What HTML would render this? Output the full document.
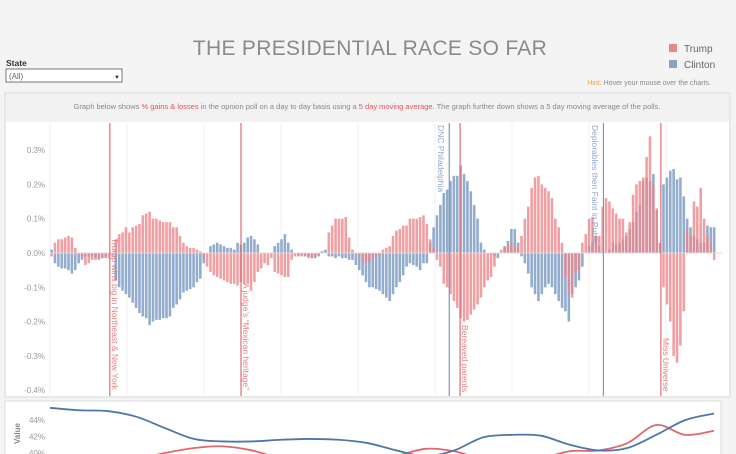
<!DOCTYPE html>
<html><head><meta charset="utf-8"><style>
body{margin:0;width:736px;height:454px;overflow:hidden;background:#f4f4f4;font-family:"Liberation Sans",sans-serif;}
svg{position:absolute;left:0;top:0;}
</style></head><body>
<svg width="736" height="454" viewBox="0 0 736 454" id="root">
<text x="370" y="55" text-anchor="middle" font-size="21" fill="#8a8a8a" letter-spacing="0.3">THE PRESIDENTIAL RACE SO FAR</text>
<text x="6" y="66" font-size="8.5" font-weight="bold" fill="#333">State</text>
<g><rect x="6" y="69" width="116" height="13" fill="#fff" stroke="#555" stroke-width="0.8"/><text x="9" y="79" font-size="8" fill="#666">(All)</text><text x="114" y="79" font-size="6" fill="#333">▼</text></g>
<g><rect x="669" y="44" width="8" height="8" fill="#e58a8d"/><text x="684" y="52" font-size="10" fill="#666">Trump</text></g>
<g><rect x="669" y="60" width="8" height="8" fill="#88a3c6"/><text x="684" y="68" font-size="10" fill="#666">Clinton</text></g>
<text x="711" y="85" text-anchor="end" font-size="7" fill="#888"><tspan fill="#f0a040">Hint:</tspan> Hover your mouse over the charts.</text>
<rect x="5" y="93" width="725" height="304" fill="#f2f2f2" stroke="#ddd"/>
<text x="367" y="109" text-anchor="middle" font-size="7.5" fill="#888">Graph below shows <tspan fill="#e0555a">% gains &amp; losses</tspan> in the opnion poll on a day to day basis using a <tspan fill="#e0555a">5 day moving average.</tspan> The graph further down shows a 5 day moving average of the polls.</text>
<rect x="6" y="122" width="723" height="274" fill="#fff"/>
<g id="bars"></g>
<rect x="5" y="401" width="716" height="60" fill="#fff" stroke="#ddd"/>
<g id="lines"></g>
</svg>
<script>
const trump=[-0.01,0.03,0.04,0.04,0.045,0.05,0.045,0.015,-0.005,-0.01,-0.035,-0.03,-0.02,-0.02,-0.015,-0.015,-0.015,-0.015,-0.01,0.04,
0.055,0.06,0.075,0.06,0.075,0.08,0.085,0.11,0.115,0.12,0.1,0.1,0.095,0.09,0.09,0.09,0.075,0.075,0.05,0.03,0.02,0.015,0.015,0.01,0.005,-0.01,-0.04,-0.055,-0.065,-0.07,-0.075,-0.08,-0.085,-0.09,-0.09,-0.095,-0.085,-0.09,-0.09,-0.11,-0.085,-0.055,-0.045,-0.03,-0.035,-0.015,-0.055,-0.06,-0.065,-0.07,-0.07,-0.02,-0.01,-0.005,-0.01,-0.01,-0.015,-0.015,-0.01,-0.005,0.005,0.0,0.06,0.08,0.1,0.1,0.1,0.105,0.045,0.01,0.0,-0.01,-0.025,-0.03,-0.025,-0.015,-0.01,-0.01,
0.01,0.015,0.02,0.05,0.065,0.07,0.08,0.08,0.1,0.1,0.1,0.105,0.11,0.085,0.04,0.015,-0.02,-0.04,-0.09,-0.1,-0.12,-0.14,-0.16,-0.19,-0.2,-0.195,-0.18,-0.165,-0.15,-0.13,-0.1,-0.08,-0.07,-0.04,0.0,0.01,0.015,0.02,0.03,0.02,0.015,0.05,0.1,0.135,0.19,0.22,0.225,0.2,0.19,0.18,0.16,0.1,0.075,0.03,-0.07,-0.12,-0.13,-0.06,-0.05,0.03,0.055,0.1,0.105,0.05,0.05,0.135,0.16,0.15,0.13,0.115,0.1,0.1,0.06,0.09,0.17,0.2,0.21,0.22,0.28,0.34,0.2,0.13,0.03,-0.1,-0.15,-0.2,-0.3,-0.32,-0.27,-0.17,0.07,0.05,0.15,0.135,0.19,0.1,0.05,0.03,-0.02];
const clinton=[0.01,-0.03,-0.04,-0.045,-0.045,-0.05,-0.06,-0.05,-0.03,-0.02,-0.01,-0.01,-0.01,-0.015,-0.02,-0.015,-0.01,-0.005,0.0,-0.08,
-0.1,-0.11,-0.12,-0.13,-0.145,-0.16,-0.175,-0.185,-0.19,-0.21,-0.2,-0.195,-0.195,-0.19,-0.19,-0.185,-0.16,-0.15,-0.135,-0.115,-0.11,-0.105,-0.1,-0.085,-0.075,-0.03,0.0,0.02,0.025,0.03,0.025,0.02,0.015,0.015,0.01,0.03,0.025,0.03,0.045,0.05,0.04,0.025,0.0,0.0,0.0,0.0,0.02,0.03,0.04,0.055,0.03,0.01,0.0,-0.01,-0.005,-0.01,-0.01,-0.015,-0.015,-0.01,0.005,0.01,-0.01,-0.01,-0.015,-0.01,-0.015,-0.015,-0.02,-0.02,-0.035,-0.05,-0.065,-0.085,-0.1,-0.1,-0.105,-0.11,
-0.12,-0.13,-0.14,-0.12,-0.1,-0.085,-0.065,-0.04,-0.03,-0.035,-0.04,-0.05,-0.03,-0.03,0.03,0.075,0.11,0.14,0.175,0.185,0.21,0.225,0.225,0.255,0.23,0.21,0.18,0.14,0.1,0.03,0.01,0.0,-0.005,-0.01,-0.015,0.0,0.02,0.035,0.07,0.07,0.03,-0.01,-0.03,-0.06,-0.1,-0.12,-0.14,-0.12,-0.1,-0.09,-0.1,-0.12,-0.14,-0.16,-0.17,-0.2,-0.12,-0.1,-0.08,-0.04,0.0,0.02,0.03,0.05,0.02,0.0,0.0,0.01,0.03,0.025,0.03,0.04,0.05,0.07,0.09,0.12,0.14,0.21,0.22,0.21,0.23,0.125,0.03,0.2,0.22,0.24,0.245,0.215,0.22,0.165,0.1,0.075,0.05,0.04,0.03,0.03,0.08,0.075,0.075];
const yTicks=[0.3,0.2,0.1,0.0,-0.1,-0.2,-0.3,-0.4];
const events=["Trump wins big in Northeast & New York","A judge's \u201cMexican heritage\u201d","DNC Philadelphia","Bereaved parents","Deplorables then Faint in Public","Miss Universe"];
const eventIdx=[17.2,56,117.6,120.8,163.2,180.2];
const eventParty=["t","t","c","t","c","t"];
const eventTextY=[238,283,125,325,125,338];
const lineBlue=[45.5,45.2,45.1,44.4,43.0,41.7,41.4,41.4,41.6,41.7,41.6,41.2,40.3,39.6,40.3,41.9,42.2,42.1,41.0,40.3,40.6,42.2,44.0,44.8];
const lineRed=[37.5,37.8,38.3,39.2,40.0,40.6,40.8,40.3,39.3,38.6,38.5,38.8,39.6,40.5,40.2,39.2,38.8,39.3,40.2,40.3,41.2,43.4,42.2,42.7];
const lineTicks=[44,42,40];

const NS="http://www.w3.org/2000/svg";
function mk(tag,attrs,parent){const e=document.createElementNS(NS,tag);for(const k in attrs)e.setAttribute(k,attrs[k]);parent.appendChild(e);return e;}
const bars=document.getElementById('bars');
const X0=50,X1=716;
const n=Math.min(trump.length,clinton.length);
const pitch=(X1-X0)/n;
const bx=i=>X0+i*pitch;
const by=v=>253-v*343;
for(let g=0;g<9;g++){const l=mk('line',{x1:X0+g*77,x2:X0+g*77,y1:123,y2:395,stroke:'#f1f1f1','stroke-width':1},bars);

}
yTicks.forEach(t=>{const tx=mk('text',{x:45,y:by(t)+3,'text-anchor':'end','font-size':8,fill:'#999'},bars);tx.textContent=t.toFixed(1)+'%';

});
for(let i=0;i<n;i++){
  const c=clinton[i],t=trump[i];
  const rc=mk('rect',{x:bx(i)+0.3,width:pitch-0.8,y:Math.min(by(0),by(c)),height:Math.abs(by(c)-by(0)),fill:'#7f9dc5','fill-opacity':0.85},bars);
  
  
  const rt=mk('rect',{x:bx(i)+0.3,width:pitch-0.8,y:Math.min(by(0),by(t)),height:Math.abs(by(t)-by(0)),fill:'#ec8589','fill-opacity':0.78},bars);
  
  
}
const z=mk('line',{x1:X0,x2:X1+6,y1:by(0),y2:by(0),stroke:'#ddd','stroke-width':1},bars);


events.forEach((ev,k)=>{
  const x=bx(eventIdx[k])+pitch/2;
  const col=eventParty[k]=='t'?'#e06a70':'#7b98bf';
  const ln=mk('line',{x1:x,x2:x,y1:123,y2:396,stroke:col,'stroke-width':1.2},bars);
  
  
  const tx=eventParty[k]=='t'?x+2:x-11.5;
  const te=mk('text',{transform:`translate(${tx},${eventTextY[k]}) rotate(90)`,'font-size':8.5,fill:col,'fill-opacity':0.85},bars);
  te.textContent=ev;
  
  
});
const lg=document.getElementById('lines');
const clip=mk('clipPath',{id:'lc'},lg);mk('rect',{x:6,y:402,width:714,height:52},clip);
const ly=v=>436.5-(v-42)*8.2;
const lx=k=>50+k*(664/(lineBlue.length-1));
lineTicks.forEach(t=>{const tx=mk('text',{x:45,y:ly(t)+3,'text-anchor':'end','font-size':8,fill:'#999'},lg);tx.textContent=t+'%';

});
const vl=mk('text',{transform:'translate(20,444) rotate(-90)','font-size':8,'font-weight':'bold',fill:'#888'},lg);vl.textContent='Value';


function path(arr){const p=arr.map((v,k)=>[lx(k),ly(v)]);
 let d='M'+p[0][0]+','+p[0][1];
 for(let k=0;k<p.length-1;k++){const p0=p[k-1]||p[k],p1=p[k],p2=p[k+1],p3=p[k+2]||p2;
  d+=` C${p1[0]+(p2[0]-p0[0])/6},${p1[1]+(p2[1]-p0[1])/6} ${p2[0]-(p3[0]-p1[0])/6},${p2[1]-(p3[1]-p1[1])/6} ${p2[0]},${p2[1]}`;}
 return d;}
const pr=mk('path',{d:path(lineRed),fill:'none',stroke:'#e0676c','stroke-width':1.8,'clip-path':'url(#lc)'},lg);


const pb=mk('path',{d:path(lineBlue),fill:'none',stroke:'#4f76a8','stroke-width':1.8,'clip-path':'url(#lc)'},lg);


</script>
</body></html>
